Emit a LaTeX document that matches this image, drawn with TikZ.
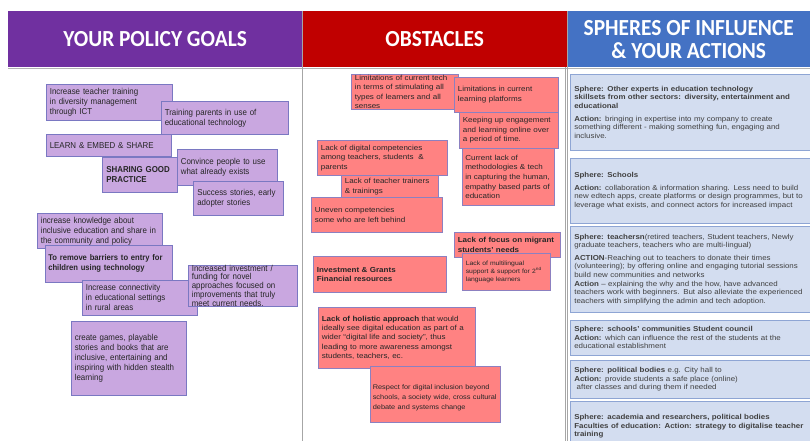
\documentclass[tikz,border=0pt]{standalone}
\usepackage{fontspec}
\setmainfont{Liberation Sans}[FakeStretch=1.1]
\newfontfamily\goalfont{Liberation Sans}[FakeStretch=0.92]
\newfontfamily\headfont{Carlito}[FakeStretch=0.93]

\begin{document}
\begin{tikzpicture}[x=1pt, y=-1pt,
    goal/.style={anchor=north west, draw=goalBorder, fill=goalFill, line width=0.6pt,
        inner xsep=3.5pt, inner ysep=1pt, align=left, text=black!85,
        font=\goalfont\fontsize{8.6}{10}\selectfont},
    obstacle/.style={goal, draw=obstBorder, fill=obstFill, font=\fontsize{7.3}{9.6}\selectfont},
    sphere/.style={goal, draw=sphereBorder, fill=sphereFill, inner xsep=4pt, text width=232pt,
        text=black!75, font=\fontsize{7.2}{8.6}\selectfont},
    header/.style={anchor=north west, fill=#1, text=white, align=center, inner sep=0pt,
        minimum height=56pt, font=\headfont\bfseries\fontsize{23}{23}\selectfont}]
    % Define colors
    \definecolor{purpleHead}{HTML}{7030A0}
    \definecolor{redHead}{HTML}{C00000}
    \definecolor{blueHead}{HTML}{4472C4}
    \definecolor{goalFill}{HTML}{C9A7E0}
    \definecolor{goalBorder}{HTML}{7A78C2}
    \definecolor{obstFill}{HTML}{FF8282}
    \definecolor{obstBorder}{HTML}{8C80C0}
    \definecolor{sphereFill}{HTML}{D3DDF0}
    \definecolor{sphereBorder}{HTML}{8EA5D4}

    % Fix the page size
    \useasboundingbox[fill=white] (0,0) rectangle (810,441);

    % Draw headers
    \node[header=purpleHead, minimum width=294pt] (headGoals) at (8,11) {YOUR POLICY GOALS};
    \node[header=redHead, minimum width=265pt] (headObstacles) at (302,11) {OBSTACLES};
    \node[header=blueHead, minimum width=243pt] (headSpheres) at (567,11) {SPHERES OF INFLUENCE\\\& YOUR ACTIONS};

    % Draw column rules
    \draw[gray!60, line width=0.8pt] (8,68) -- (810,68);
    \draw[gray!70, line width=0.6pt] (302,11) -- (302,441);
    \draw[gray!70, line width=0.6pt] (565,67) -- (565,441);
    \draw[gray!70, line width=0.6pt] (567.5,11) -- (567.5,441);

    % Policy goals
    \node[goal, text width=119pt, minimum height=36pt] (goalTeachers) at (46,84) {Increase teacher training\\in diversity management\\through ICT};
    \node[goal, text width=120pt, minimum height=33pt] (goalParents) at (161,101) {Training parents in use of\\educational technology};
    \node[goal, text width=118pt, minimum height=22pt] (goalLearn) at (46,134) {LEARN \& EMBED \& SHARE};
    \node[goal, text width=67pt, inner xsep=4pt, minimum height=35pt] (goalSharing) at (102,157) {\textbf{SHARING GOOD}\\\textbf{PRACTICE}};
    \node[goal, text width=93pt, minimum height=36pt] (goalConvince) at (177,149) {Convince people to use\\what already exists};
    \node[goal, text width=82pt, inner xsep=4pt, minimum height=34pt] (goalStories) at (193,181) {Success stories, early\\adopter stories};
    \node[goal, text width=118pt, minimum height=35pt] (goalKnowledge) at (37,213) {increase knowledge about\\inclusive education and share in\\the community and policy};
    \node[goal, text width=121pt, inner xsep=3pt, minimum height=37pt, font=\goalfont\fontsize{8.3}{10}\selectfont] (goalBarriers) at (45,245) {\textbf{To remove barriers to entry for}\\\textbf{children using technology}};
    \node[goal, text width=108pt, minimum height=35pt] (goalConnect) at (82,280) {Increase connectivity\\in educational settings\\in rural areas};
    \node[goal, text width=102pt, inner ysep=0pt, minimum height=39pt, font=\goalfont\fontsize{8.6}{7.8}\selectfont] (goalFunding) at (188,265) {Increased investment /\\funding for novel\\approaches focused on\\improvements that truly\\meet current needs.};
    \node[goal, text width=108pt, minimum height=74pt] (goalGames) at (71,321) {create games, playable\\stories and books that are\\inclusive, entertaining and\\inspiring with hidden stealth\\learning};

    % Obstacles
    \node[obstacle, text width=100pt, inner ysep=0pt, minimum height=35pt, font=\fontsize{7.3}{9.3}\selectfont] (obstTech) at (351,74) {Limitations of current tech\\in terms of stimulating all\\types of learners and all\\senses};
    \node[obstacle, text width=97pt, minimum height=35pt] (obstPlatforms) at (454,77) {Limitations in current\\learning platforms};
    \node[obstacle, text width=92pt, minimum height=36pt] (obstEngagement) at (459,112) {Keeping up engagement\\and learning online over\\a period of time.};
    \node[obstacle, text width=86pt, inner xsep=3pt, minimum height=57pt] (obstMethods) at (462,148) {Current lack of\\methodologies \& tech\\in capturing the human,\\empathy based parts of\\education};
    \node[obstacle, text width=123pt, minimum height=35pt] (obstCompetencies) at (317,140) {Lack of digital competencies\\among teachers, students \ \&\\parents};
    \node[obstacle, text width=90pt, inner ysep=0pt, minimum height=23pt] (obstTrainers) at (341,175) {Lack of teacher trainers\\\& trainings};
    \node[obstacle, text width=124pt, minimum height=35pt] (obstUneven) at (311,197) {Uneven competencies\\some who are left behind};
    \node[obstacle, text width=99pt, inner ysep=0pt, minimum height=25pt] (obstMigrant) at (454,232) {\textbf{Lack of focus on migrant}\\\textbf{students' needs}};
    \node[obstacle, text width=81pt, minimum height=37pt, font=\fontsize{6.2}{8.3}\selectfont] (obstLanguage) at (462,253) {Lack of multilingual\\support \& support for 2\textsuperscript{nd}\\language learners};
    \node[obstacle, text width=126pt, minimum height=36pt] (obstFunding) at (313,256) {\textbf{Investment \& Grants}\\\textbf{Financial resources}};
    \node[obstacle, text width=150pt, minimum height=61pt, font=\fontsize{7.3}{9.4}\selectfont] (obstHolistic) at (318,307) {\textbf{Lack of holistic approach} that would\\ideally see digital education as part of a\\wider “digital life and society”, thus\\leading to more awareness amongst\\students, teachers, ec.};
    \node[obstacle, text width=125pt, inner xsep=2.5pt, minimum height=56pt, font=\fontsize{6.7}{10}\selectfont] (obstRespect) at (370,366) {\rule{0pt}{12pt}Respect for digital inclusion beyond\\schools, a society wide, cross cultural\\debate and systems change};

    % Spheres of influence and actions
    \node[sphere, minimum height=76pt] (sphereExperts) at (570,74) {\textbf{Sphere: Other experts in education technology}\\\textbf{skillsets from other sectors: diversity, entertainment and}\\\textbf{educational}\\[4pt]\textbf{Action:} bringing in expertise into my company to create\\something different - making something fun, engaging and\\inclusive.};
    \node[sphere, minimum height=65pt] (sphereSchools) at (570,158) {\textbf{Sphere: Schools}\\[4pt]\textbf{Action:} collaboration \& information sharing. Less need to build\\new edtech apps, create platforms or design programmes, but to\\leverage what exists, and connect actors for increased impact};
    \node[sphere, minimum height=86pt] (sphereTeachers) at (570,226) {\textbf{Sphere: teachersn}(retired teachers, Student teachers, Newly\\graduate teachers, teachers who are multi-lingual)\\[4pt]\textbf{ACTION}-Reaching out to teachers to donate their times\\(volunteering); by offering online and engaging tutorial sessions\\build new communities and networks\\\textbf{Action} – explaining the why and the how, have advanced\\teachers work with beginners. But also alleviate the experienced\\teachers with simplifying the admin and tech adoption.};
    \node[sphere, minimum height=35pt] (sphereCouncil) at (570,320) {\textbf{Sphere: schools' communities Student council}\\\textbf{Action:} which can influence the rest of the students at the\\educational establishment};
    \node[sphere, minimum height=38pt] (spherePolitics) at (570,360) {\textbf{Sphere: political bodies} e.g. City hall to\\\textbf{Action:} provide students a safe place (online)\\\ after classes and during them if needed};
    \node[sphere, minimum height=50pt] (sphereAcademia) at (570,401) {\textbf{Sphere: academia and researchers, political bodies}\\\textbf{Faculties of education: Action: strategy to digitalise teacher}\\\textbf{training}};

\end{tikzpicture}
\end{document}
